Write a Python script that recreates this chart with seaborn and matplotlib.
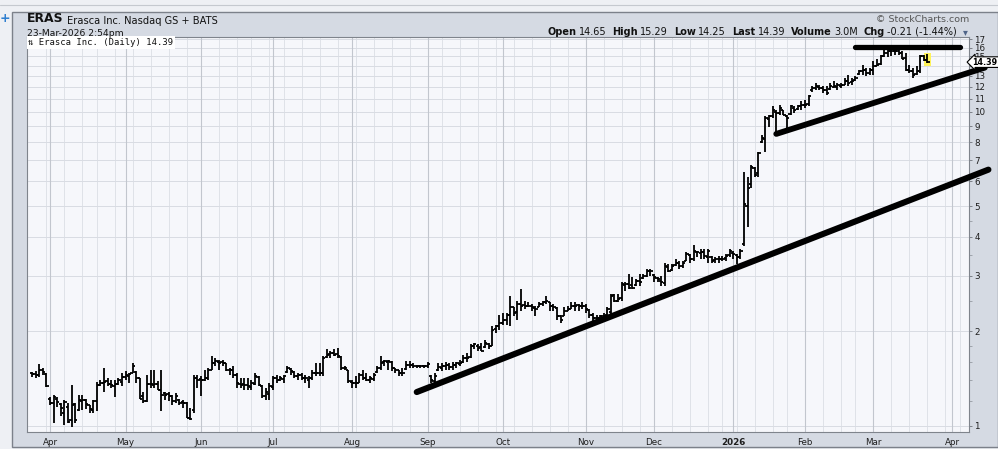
import numpy as np
import pandas as pd
import matplotlib
matplotlib.use("Agg")
import matplotlib.pyplot as plt
from matplotlib.patches import Rectangle
from matplotlib.ticker import FixedLocator, NullFormatter
import seaborn as sns

# ---------------------------------------------------------------- data
ticker = "ERAS"
company = "Erasca Inc."
exchange = "Nasdaq GS + BATS"
stamp = "23-Mar-2026 2:54pm"
volume_text = "3.0M"
first_session = "2025-03-25"
last_axis_day = "2026-04-30"
market_holidays = ["2025-04-18", "2025-05-26", "2025-06-19", "2025-07-04",
                   "2025-09-01", "2025-11-27", "2025-12-25", "2026-01-01",
                   "2026-01-19", "2026-02-16", "2026-04-03"]

# daily bars: (open, high, low, close)
bars_2025_03 = [(1.47, 1.48, 1.43, 1.46), (1.46, 1.49, 1.42, 1.45), (1.45, 1.57, 1.43, 1.51),
                (1.51, 1.53, 1.45, 1.48), (1.46, 1.47, 1.33, 1.34)]
bars_2025_04 = [(1.22, 1.235, 1.165, 1.18), (1.18, 1.25, 1.02, 1.235), (1.22, 1.235, 1.15, 1.19),
                (1.17, 1.18, 1.07, 1.14), (1.10, 1.205, 1.005, 1.19), (1.15, 1.18, 1.02, 1.03),
                (1.04, 1.35, 0.99, 1.165), (1.17, 1.18, 1.02, 1.04), (1.12, 1.25, 1.11, 1.205),
                (1.20, 1.25, 1.125, 1.205), (1.21, 1.22, 1.13, 1.17), (1.16, 1.165, 1.10, 1.13),
                (1.12, 1.205, 1.10, 1.20), (1.20, 1.38, 1.11, 1.35), (1.35, 1.40, 1.335, 1.37),
                (1.37, 1.53, 1.285, 1.38), (1.39, 1.42, 1.335, 1.36), (1.36, 1.40, 1.32, 1.35),
                (1.34, 1.40, 1.235, 1.36), (1.36, 1.42, 1.35, 1.40), (1.38, 1.47, 1.335, 1.43)]
bars_2025_05 = [(1.43, 1.49, 1.40, 1.45), (1.44, 1.47, 1.37, 1.46), (1.47, 1.58, 1.47, 1.55),
                (1.48, 1.49, 1.37, 1.42), (1.42, 1.42, 1.22, 1.22), (1.24, 1.285, 1.18, 1.195),
                (1.20, 1.45, 1.19, 1.355), (1.36, 1.50, 1.32, 1.355), (1.35, 1.50, 1.32, 1.36),
                (1.36, 1.39, 1.30, 1.30), (1.30, 1.50, 1.11, 1.25), (1.27, 1.285, 1.205, 1.25),
                (1.26, 1.28, 1.20, 1.24), (1.24, 1.25, 1.165, 1.20), (1.20, 1.27, 1.18, 1.24),
                (1.21, 1.22, 1.165, 1.18), (1.19, 1.21, 1.14, 1.18), (1.18, 1.19, 1.055, 1.055),
                (1.06, 1.14, 1.045, 1.05), (1.12, 1.45, 1.10, 1.42), (1.42, 1.45, 1.32, 1.40)]
bars_2025_06 = [(1.41, 1.44, 1.24, 1.40), (1.40, 1.51, 1.384, 1.418), (1.42, 1.527, 1.40, 1.51),
                (1.51, 1.665, 1.51, 1.585), (1.58, 1.64, 1.546, 1.604), (1.60, 1.625, 1.51, 1.585),
                (1.60, 1.625, 1.546, 1.585), (1.58, 1.585, 1.49, 1.51), (1.51, 1.527, 1.453, 1.51),
                (1.51, 1.546, 1.418, 1.453), (1.45, 1.47, 1.317, 1.366), (1.36, 1.418, 1.317, 1.35),
                (1.36, 1.418, 1.30, 1.35), (1.35, 1.418, 1.30, 1.334), (1.33, 1.40, 1.30, 1.366),
                (1.36, 1.47, 1.35, 1.436), (1.43, 1.44, 1.334, 1.35), (1.34, 1.35, 1.223, 1.24),
                (1.24, 1.317, 1.21, 1.285), (1.26, 1.366, 1.21, 1.334)]
bars_2025_07 = [(1.33, 1.436, 1.30, 1.418), (1.42, 1.453, 1.366, 1.40), (1.40, 1.436, 1.384, 1.418),
                (1.41, 1.453, 1.366, 1.436), (1.48, 1.546, 1.47, 1.527), (1.52, 1.527, 1.453, 1.49),
                (1.48, 1.49, 1.418, 1.436), (1.44, 1.47, 1.40, 1.453), (1.45, 1.47, 1.40, 1.418),
                (1.42, 1.453, 1.366, 1.418), (1.40, 1.436, 1.317, 1.418), (1.42, 1.51, 1.40, 1.47),
                (1.47, 1.585, 1.436, 1.47), (1.47, 1.585, 1.436, 1.47), (1.47, 1.665, 1.436, 1.64),
                (1.66, 1.75, 1.64, 1.685), (1.69, 1.727, 1.64, 1.705), (1.70, 1.75, 1.665, 1.685),
                (1.69, 1.77, 1.64, 1.665), (1.66, 1.665, 1.51, 1.527), (1.53, 1.546, 1.51, 1.527),
                (1.50, 1.51, 1.366, 1.384)]
bars_2025_08 = [(1.38, 1.40, 1.317, 1.366), (1.37, 1.436, 1.317, 1.366), (1.37, 1.47, 1.366, 1.453),
                (1.45, 1.51, 1.40, 1.418), (1.42, 1.47, 1.384, 1.40), (1.40, 1.436, 1.366, 1.418),
                (1.41, 1.47, 1.384, 1.453), (1.48, 1.546, 1.47, 1.527), (1.53, 1.665, 1.51, 1.585),
                (1.59, 1.625, 1.546, 1.604), (1.60, 1.625, 1.51, 1.604), (1.60, 1.604, 1.49, 1.527),
                (1.53, 1.527, 1.47, 1.51), (1.51, 1.51, 1.436, 1.47), (1.47, 1.527, 1.436, 1.47),
                (1.52, 1.604, 1.51, 1.565), (1.56, 1.604, 1.527, 1.565), (1.56, 1.585, 1.527, 1.546),
                (1.55, 1.565, 1.527, 1.546), (1.55, 1.565, 1.527, 1.546), (1.55, 1.565, 1.527, 1.546)]
bars_2025_09 = [(1.55, 1.60, 1.53, 1.57), (1.44, 1.45, 1.365, 1.40), (1.39, 1.47, 1.38, 1.435),
                (1.50, 1.58, 1.49, 1.54), (1.53, 1.58, 1.49, 1.55), (1.55, 1.60, 1.51, 1.565),
                (1.56, 1.58, 1.51, 1.54), (1.54, 1.60, 1.51, 1.565), (1.56, 1.60, 1.53, 1.58),
                (1.57, 1.62, 1.55, 1.58), (1.59, 1.685, 1.58, 1.64), (1.64, 1.705, 1.60, 1.64),
                (1.65, 1.815, 1.64, 1.79), (1.79, 1.84, 1.75, 1.815), (1.80, 1.815, 1.725, 1.77),
                (1.78, 1.84, 1.725, 1.725), (1.78, 1.87, 1.77, 1.84), (1.82, 1.84, 1.75, 1.79),
                (1.80, 2.075, 1.79, 2.02), (2.03, 2.10, 1.97, 2.075), (2.08, 2.26, 2.02, 2.12)]
bars_2025_10 = [(2.13, 2.29, 2.10, 2.17), (2.17, 2.29, 2.10, 2.26), (2.25, 2.59, 2.08, 2.38),
                (2.38, 2.38, 2.23, 2.29), (2.30, 2.50, 2.17, 2.44), (2.45, 2.72, 2.32, 2.41),
                (2.42, 2.50, 2.35, 2.41), (2.41, 2.47, 2.38, 2.41), (2.40, 2.44, 2.32, 2.38),
                (2.37, 2.41, 2.23, 2.35), (2.38, 2.47, 2.38, 2.44), (2.44, 2.50, 2.41, 2.47),
                (2.47, 2.59, 2.44, 2.50), (2.48, 2.48, 2.32, 2.41), (2.41, 2.44, 2.32, 2.38),
                (2.37, 2.38, 2.17, 2.23), (2.23, 2.26, 2.12, 2.17), (2.24, 2.38, 2.23, 2.32),
                (2.32, 2.41, 2.32, 2.35), (2.35, 2.47, 2.35, 2.41), (2.41, 2.47, 2.32, 2.41),
                (2.42, 2.44, 2.32, 2.41), (2.41, 2.47, 2.35, 2.41)]
bars_2025_11 = [(2.40, 2.44, 2.29, 2.35), (2.33, 2.35, 2.20, 2.26), (2.26, 2.29, 2.15, 2.21),
                (2.21, 2.26, 2.13, 2.21), (2.20, 2.26, 2.18, 2.24), (2.24, 2.29, 2.18, 2.24),
                (2.26, 2.38, 2.24, 2.35), (2.30, 2.62, 2.27, 2.59), (2.60, 2.62, 2.47, 2.50),
                (2.50, 2.62, 2.47, 2.53), (2.55, 2.86, 2.50, 2.82), (2.80, 2.86, 2.69, 2.82),
                (2.82, 3.04, 2.72, 2.75), (2.80, 2.97, 2.72, 2.75), (2.80, 2.93, 2.79, 2.89),
                (2.88, 3.04, 2.79, 2.86), (2.95, 3.04, 2.93, 3.00), (3.00, 3.15, 2.97, 3.12),
                (3.10, 3.15, 3.00, 3.12)]
bars_2025_12 = [(3.02, 3.04, 2.86, 2.97), (2.95, 2.97, 2.86, 2.93), (2.90, 3.00, 2.79, 2.86),
                (2.85, 3.31, 2.79, 3.23), (3.20, 3.27, 3.08, 3.12), (3.14, 3.27, 3.12, 3.23),
                (3.25, 3.40, 3.23, 3.31), (3.30, 3.35, 3.15, 3.23), (3.22, 3.35, 3.19, 3.31),
                (3.35, 3.57, 3.35, 3.52), (3.50, 3.52, 3.31, 3.40), (3.40, 3.75, 3.35, 3.61),
                (3.58, 3.61, 3.44, 3.57), (3.55, 3.66, 3.40, 3.57), (3.58, 3.66, 3.40, 3.48),
                (3.45, 3.66, 3.31, 3.61), (3.45, 3.48, 3.31, 3.35), (3.36, 3.44, 3.31, 3.40),
                (3.40, 3.48, 3.31, 3.40), (3.40, 3.48, 3.35, 3.40), (3.42, 3.52, 3.35, 3.48),
                (3.50, 3.66, 3.44, 3.61)]
bars_2026_01 = [(3.55, 3.61, 3.40, 3.52), (3.50, 3.52, 3.27, 3.45), (3.45, 3.65, 3.40, 3.60),
                (3.80, 6.44, 3.73, 5.10), (5.00, 6.20, 4.30, 5.70), (5.90, 6.75, 5.70, 6.68),
                (6.60, 6.68, 6.20, 6.30), (6.40, 7.45, 6.20, 7.37), (8.00, 8.44, 7.94, 8.23),
                (8.20, 9.66, 7.46, 9.54), (9.50, 9.78, 8.97, 9.66), (9.70, 10.4, 9.54, 10.15),
                (10.0, 10.15, 8.44, 9.90), (9.90, 10.5, 9.78, 10.3), (10.1, 10.15, 9.78, 9.78),
                (9.70, 9.78, 8.86, 9.54), (9.80, 10.5, 9.78, 10.4), (10.3, 10.4, 9.90, 10.15),
                (10.2, 10.5, 10.15, 10.4), (10.4, 10.8, 10.15, 10.5)]
bars_2026_02 = [(10.5, 10.9, 10.3, 10.5), (10.6, 11.3, 10.4, 11.2), (11.7, 12.05, 11.6, 11.9),
                (11.9, 12.36, 11.76, 12.05), (12.0, 12.2, 11.76, 11.9), (11.9, 12.05, 11.47, 11.76),
                (11.7, 12.05, 11.3, 11.47), (11.8, 12.36, 11.76, 12.05), (12.0, 12.5, 11.9, 12.05),
                (12.0, 12.36, 11.76, 12.2), (12.1, 12.36, 11.9, 12.2), (12.2, 12.8, 12.2, 12.5),
                (12.5, 13.1, 12.05, 12.36), (12.4, 12.8, 12.2, 12.5), (12.6, 12.98, 12.5, 12.8),
                (13.2, 13.6, 13.1, 13.5), (13.5, 14.1, 13.1, 13.6), (13.6, 13.8, 12.98, 13.3),
                (13.3, 13.8, 13.1, 13.6)]
bars_2026_03 = [(13.6, 14.5, 13.1, 13.97), (14.0, 14.7, 13.97, 14.1), (14.2, 15.2, 14.1, 15.0),
                (15.0, 15.8, 14.9, 15.4), (15.4, 16.0, 14.9, 15.6), (15.6, 16.2, 15.0, 15.6),
                (15.6, 16.2, 15.2, 15.6), (15.6, 15.8, 15.2, 15.4), (15.4, 15.6, 14.7, 14.7),
                (14.8, 15.4, 13.5, 13.6), (13.6, 14.1, 13.3, 13.5), (13.5, 13.8, 12.8, 13.1),
                (13.2, 13.97, 13.1, 13.5), (13.5, 15.2, 13.3, 15.0), (15.0, 15.2, 14.5, 14.60),
                (14.65, 15.29, 14.25, 14.39)]

y_tick_values = list(range(1, 18))
y_minor_values = [1.2, 1.4, 1.6, 1.8, 2.5, 3.5, 4.5]

# hand-drawn trend lines (date, price)
trend_lower_dates = ["2025-08-27", "2026-04-16"]
trend_lower_prices = [1.28, 6.54]
trend_upper_dates = ["2026-01-21", "2026-04-15"]
trend_upper_prices = [8.50, 13.82]
trend_top_dates = ["2026-02-23", "2026-04-06"]
trend_top_prices = [16.07, 16.07]

# ---------------------------------------------------------------- frame
all_bars = (bars_2025_03 + bars_2025_04 + bars_2025_05 + bars_2025_06 + bars_2025_07
            + bars_2025_08 + bars_2025_09 + bars_2025_10 + bars_2025_11 + bars_2025_12
            + bars_2026_01 + bars_2026_02 + bars_2026_03)
df = pd.DataFrame(all_bars, columns=["open", "high", "low", "close"])

days = pd.bdate_range(first_session, last_axis_day)
days = days[~days.isin(pd.to_datetime(market_holidays))]
pos_of = {d: i for i, d in enumerate(days)}
df["pos"] = np.arange(len(df))
df["date"] = days[:len(df)]

# ---------------------------------------------------------------- style
sns.set_theme(style="white")
plt.rcParams["font.family"] = ["DejaVu Sans"]
plt.rcParams["axes.linewidth"] = 0.8

W, H = 998, 449
fig = plt.figure(figsize=(W / 100, H / 100), dpi=100)
fig.patch.set_facecolor("#eef0f4")


def fx(px):
    return px / W


def fy(py):
    return 1 - py / H


# panel behind the chart
fig.add_artist(Rectangle((fx(11.5), fy(447)), fx(998) - fx(11.5), fy(11.5) - fy(447),
                         transform=fig.transFigure, facecolor="#d5dae3",
                         edgecolor="#7c818a", linewidth=1.0, zorder=0))
fig.add_artist(plt.Line2D([0, 1], [fy(5), fy(5)], transform=fig.transFigure,
                          color="#c5c9cf", lw=0.8))
fig.text(fx(0), fy(19), "+", color="#2f7fd0", fontsize=9, fontweight="bold",
         ha="left", va="center")

ax = fig.add_axes([fx(27), fy(432), fx(969) - fx(27), fy(37) - fy(432)])
ax.set_facecolor("#f6f7fb")
ax.set_yscale("log")

XMIN, XMAX = -1.4, 260.6
YMIN, YMAX = 0.955, 17.3

# grid: weekly (light) and monthly (darker) verticals
week_key = [(d.isocalendar()[0], d.isocalendar()[1]) for d in days]
week_starts = [i for i in range(1, len(days)) if week_key[i] != week_key[i - 1]]
month_starts = [i for i in range(1, len(days)) if days[i].month != days[i - 1].month]
for i in week_starts:
    if XMIN < i < XMAX and i not in month_starts:
        ax.axvline(i, color="#dfe2e8", lw=0.7, zorder=0.5)
for i in month_starts:
    if XMIN < i < XMAX:
        ax.axvline(i, color="#c2c6ce", lw=0.8, zorder=0.6)
for v in y_tick_values:
    ax.axhline(v, color="#d9dce3", lw=0.7, zorder=0.5)

# highlight the last bar
last = df.iloc[-1]
ax.add_patch(Rectangle((last["pos"] - 0.9, last["low"] * 0.978), 1.8,
                       last["high"] * 1.008 - last["low"] * 0.978,
                       facecolor="#fff35a", edgecolor="none", zorder=1))

# OHLC bars
tick = 0.62
ax.vlines(df["pos"], df["low"], df["high"], color="black", lw=1.3, zorder=3)
ax.hlines(df["open"], df["pos"] - tick, df["pos"], color="black", lw=1.3, zorder=3)
ax.hlines(df["close"], df["pos"], df["pos"] + tick, color="black", lw=1.3, zorder=3)

# trend lines
for dates, prices, lw in [(trend_lower_dates, trend_lower_prices, 4.4),
                          (trend_upper_dates, trend_upper_prices, 4.2),
                          (trend_top_dates, trend_top_prices, 3.8)]:
    tl = pd.DataFrame({"pos": [pos_of[pd.Timestamp(d)] for d in dates], "price": prices})
    sns.lineplot(data=tl, x="pos", y="price", ax=ax, color="black", linewidth=lw,
                 estimator=None, sort=False)
    ln = ax.lines[-1]
    ln.set_clip_on(False)
    ln.set_solid_capstyle("round")
    ln.set_zorder(4)

ax.set_xlim(XMIN, XMAX)
ax.set_ylim(YMIN, YMAX)
ax.set_xlabel("")
ax.set_ylabel("")

# x axis: months
mpos = [i for i in month_starts if XMIN < i < XMAX]
mlab = [str(days[i].year) if days[i].month == 1 else days[i].strftime("%b") for i in mpos]
ax.xaxis.set_major_locator(FixedLocator(mpos))
ax.set_xticklabels(mlab)
ax.xaxis.set_minor_locator(FixedLocator([i for i in range(len(days)) if XMIN < i < XMAX]))
ax.tick_params(axis="x", which="major", length=0, pad=4, labelsize=6.3, labelcolor="#1e1e1e")
ax.tick_params(axis="x", which="minor", length=1.5, width=0.5, color="#8a8e96", direction="out")
for lab in ax.get_xticklabels():
    if lab.get_text().isdigit():
        lab.set_fontweight("bold")

# y axis on the right
ax.yaxis.tick_right()
ax.yaxis.set_major_locator(FixedLocator(y_tick_values))
ax.set_yticklabels([str(v) for v in y_tick_values])
ax.yaxis.set_minor_locator(FixedLocator(y_minor_values))
ax.yaxis.set_minor_formatter(NullFormatter())
ax.tick_params(axis="y", which="major", length=2.5, width=0.6, pad=1.2, labelsize=6.3,
               color="#6d7179", labelcolor="#1e1e1e", direction="out")
ax.tick_params(axis="y", which="minor", length=1.8, width=0.5, color="#8a8e96",
               direction="out")
for sp in ax.spines.values():
    sp.set_color("#7f848c")
    sp.set_linewidth(0.8)

# last price tag
ax.annotate(f"{last['close']:.2f}", xy=(1, last["close"]), xycoords=("axes fraction", "data"),
            xytext=(2.6, 0), textcoords="offset points", ha="left", va="center",
            fontsize=5.8, fontweight="bold", color="black", zorder=10,
            annotation_clip=False,
            bbox=dict(boxstyle="larrow,pad=0.1", facecolor="white", edgecolor="black", lw=0.8))

# legend box inside the plot
ax.text(0.0015, 0.997, f"\u21c5 {company} (Daily) {last['close']:.2f}", transform=ax.transAxes,
        ha="left", va="top", fontsize=6.4, family=["DejaVu Sans Mono", "DejaVu Sans"],
        color="#111111", zorder=6,
        bbox=dict(facecolor="white", edgecolor="none", pad=1.2))


# ---------------------------------------------------------------- header texts
def chain(parts, x_px, y_px, color="#111111"):
    prev = None
    for s, size, bold, gap in parts:
        kw = dict(fontsize=size, fontweight="bold" if bold else "normal", color=color,
                  va="bottom", ha="left")
        if prev is None:
            prev = fig.text(fx(x_px), fy(y_px), s, **kw)
        else:
            prev = ax.annotate(s, xy=(1, 0), xycoords=prev, xytext=(gap, 0),
                               textcoords="offset points", annotation_clip=False, **kw)
    return prev


chain([(ticker, 8.9, True, 0), (f"{company} {exchange}", 7.1, False, 2.2)], 27, 25.5)
fig.text(fx(27), fy(33), stamp, fontsize=6.6, ha="left", va="center", color="#111111")
fig.text(fx(969), fy(19.5), "\u00a9 StockCharts.com", fontsize=6.8, ha="right", va="center",
         color="#555555")

prev_close = df["close"].iloc[-2]
chg = last["close"] - prev_close
pct = chg / prev_close * 100
fs = 7.0
chain([("Open", fs, True, 0), (f"{last['open']:.2f}", fs, False, 2.0),
       ("High", fs, True, 4.0), (f"{last['high']:.2f}", fs, False, 2.0),
       ("Low", fs, True, 4.0), (f"{last['low']:.2f}", fs, False, 2.0),
       ("Last", fs, True, 4.0), (f"{last['close']:.2f}", fs, False, 2.0),
       ("Volume", fs, True, 4.0), (volume_text, fs, False, 2.0),
       ("Chg", fs, True, 4.0), (f"{chg:.2f} ({pct:.2f}%)", fs, False, 2.0)], 547, 37)
fig.text(fx(965), fy(32), "\u25be", fontsize=7, ha="center", va="center", color="#4f6488")

fig.savefig("out.png", dpi=100, facecolor=fig.get_facecolor())
